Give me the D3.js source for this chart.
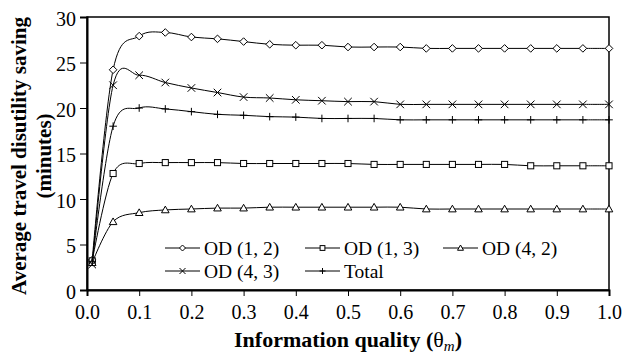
<!DOCTYPE html>
<html>
<head>
<meta charset="utf-8">
<script src="https://cdn.jsdelivr.net/npm/d3@7"></script>
</head>
<body style="margin:0">
<svg id="chart" width="624" height="354"></svg>
<script>
// information quality values (x)
const quality = [0.01, 0.05, 0.1, 0.15, 0.2, 0.25, 0.3, 0.35, 0.4, 0.45, 0.5,
                 0.55, 0.6, 0.65, 0.7, 0.75, 0.8, 0.85, 0.9, 0.95, 1.0];

// saving per OD pair
const od12 = [3.3, 24.2, 27.9, 28.3, 27.8, 27.6, 27.3, 27.0, 26.9, 26.9, 26.7,
              26.7, 26.7, 26.55, 26.55, 26.55, 26.55, 26.55, 26.55, 26.55, 26.55];
const od13 = [3.2, 12.8, 13.9, 14.0, 14.0, 14.0, 13.9, 13.9, 13.9, 13.9, 13.9,
              13.8, 13.8, 13.8, 13.8, 13.8, 13.8, 13.65, 13.65, 13.65, 13.65];
const od42 = [3.0, 7.5, 8.5, 8.8, 8.9, 9.0, 9.0, 9.1, 9.1, 9.1, 9.1,
              9.1, 9.1, 8.9, 8.9, 8.9, 8.9, 8.9, 8.9, 8.9, 8.9];
const od43 = [2.8, 22.5, 23.6, 22.8, 22.2, 21.7, 21.2, 21.1, 20.9, 20.8, 20.7,
              20.7, 20.4, 20.4, 20.4, 20.4, 20.4, 20.4, 20.4, 20.4, 20.4];
const total = [3.1, 18.0, 20.0, 19.9, 19.6, 19.3, 19.2, 19.05, 19.0, 18.85, 18.85,
               18.85, 18.7, 18.7, 18.7, 18.7, 18.7, 18.7, 18.7, 18.7, 18.7];

const seriesNames = ['OD (1, 2)', 'OD (1, 3)', 'OD (4, 2)', 'OD (4, 3)', 'Total'];
const seriesValues = [od12, od13, od42, od43, total];
const seriesMarkers = ['diamond', 'square', 'triangle', 'cross', 'plus'];

const xTicks = [0, 0.1, 0.2, 0.3, 0.4, 0.5, 0.6, 0.7, 0.8, 0.9, 1.0];
const yTicks = [0, 5, 10, 15, 20, 25, 30];

let svg = d3.select('#chart');

let x = d3.scaleLinear().domain([0, 1]).range([87, 609]);
let y = d3.scaleLinear().domain([0, 30]).range([290, 17]);

// frame around the plot
svg.append('rect')
  .attr('x', x(0)).attr('y', y(30))
  .attr('width', x(1) - x(0)).attr('height', y(0) - y(30))
  .attr('fill', 'none').attr('stroke', '#000').attr('stroke-width', 1.5);

// axes, drawn by d3 then restyled
let xAxis = svg.append('g')
  .attr('transform', `translate(0,${y(0)})`)
  .call(d3.axisBottom(x).tickValues(xTicks).tickFormat(d3.format('.1f')).tickSize(6).tickPadding(9));
let yAxis = svg.append('g')
  .attr('transform', `translate(${x(0)},0)`)
  .call(d3.axisLeft(y).tickValues(yTicks).tickSize(7).tickPadding(4));

[xAxis, yAxis].forEach(g => {
  g.attr('font-family', null).attr('font-size', null);
  g.select('.domain').attr('stroke-width', 2);
  g.selectAll('text')
    .attr('fill', '#000')
    .attr('font-family', 'Liberation Serif')
    .attr('font-size', 20);
});
yAxis.selectAll('text').attr('dy', '0.42em');

function marker(sel, type, s) {
  if (type === 'diamond') {
    sel.append('path').attr('d', `M0,${-s}L${s},0L0,${s}L${-s},0Z`)
      .attr('fill', '#fff').attr('stroke', '#000');
  } else if (type === 'square') {
    sel.append('rect').attr('x', -s * 0.8).attr('y', -s * 0.8)
      .attr('width', s * 1.6).attr('height', s * 1.6)
      .attr('fill', '#fff').attr('stroke', '#000');
  } else if (type === 'triangle') {
    sel.append('path').attr('d', `M0,${-s}L${s},${s * 0.75}L${-s},${s * 0.75}Z`)
      .attr('fill', '#fff').attr('stroke', '#000');
  } else if (type === 'cross') {
    sel.append('path').attr('d', `M${-s},${-s}L${s},${s}M${-s},${s}L${s},${-s}`)
      .attr('stroke', '#000');
  } else {
    sel.append('path').attr('d', `M${-s},0L${s},0M0,${-s}L0,${s}`)
      .attr('stroke', '#000');
  }
}

let line = d3.line()
  .x(d => x(d[0]))
  .y(d => y(d[1]))
  .curve(d3.curveCatmullRom.alpha(0));

seriesValues.forEach((vals, i) => {
  let pts = quality.map((q, j) => [q, vals[j]]);
  svg.append('path')
    .attr('d', line(pts))
    .attr('fill', 'none')
    .attr('stroke', '#000');
  pts.forEach(p => {
    let m = svg.append('g').attr('transform', `translate(${x(p[0])},${y(p[1])})`);
    marker(m, seriesMarkers[i], 3.8);
  });
});

// legend
let legendPos = [[165, 248], [305, 248], [443, 248], [165, 271], [305, 271]];
seriesNames.forEach((name, i) => {
  let [lx, ly] = legendPos[i];
  svg.append('line').attr('x1', lx).attr('x2', lx + 35).attr('y1', ly).attr('y2', ly).attr('stroke', '#000');
  let m = svg.append('g').attr('transform', `translate(${lx + 17.5},${ly})`);
  marker(m, seriesMarkers[i], 3);
  svg.append('text').attr('x', lx + 39).attr('y', ly + 7)
    .attr('font-family', 'Liberation Serif').attr('font-size', 19.5).text(name);
});

// axis titles
let xt = svg.append('text')
  .attr('x', 348)
  .attr('y', 347)
  .attr('text-anchor', 'middle')
  .attr('font-family', 'Liberation Serif')
  .attr('font-size', 22)
  .attr('font-weight', 'bold');
xt.append('tspan').text('Information quality (');
xt.append('tspan').attr('font-weight', 'normal').text('θ');
xt.append('tspan').attr('font-weight', 'normal').attr('font-style', 'italic')
  .attr('font-size', 15).attr('dy', 4).text('m');
xt.append('tspan').attr('dy', -4).text(')');

svg.append('text')
  .attr('transform', 'translate(26,156) rotate(-90)')
  .attr('text-anchor', 'middle')
  .attr('font-family', 'Liberation Serif')
  .attr('font-size', 21)
  .attr('font-weight', 'bold')
  .text('Average travel disutility saving');
svg.append('text')
  .attr('transform', 'translate(51,156) rotate(-90)')
  .attr('text-anchor', 'middle')
  .attr('font-family', 'Liberation Serif')
  .attr('font-size', 21)
  .attr('font-weight', 'bold')
  .text('(minutes)');
</script>
</body>
</html>
